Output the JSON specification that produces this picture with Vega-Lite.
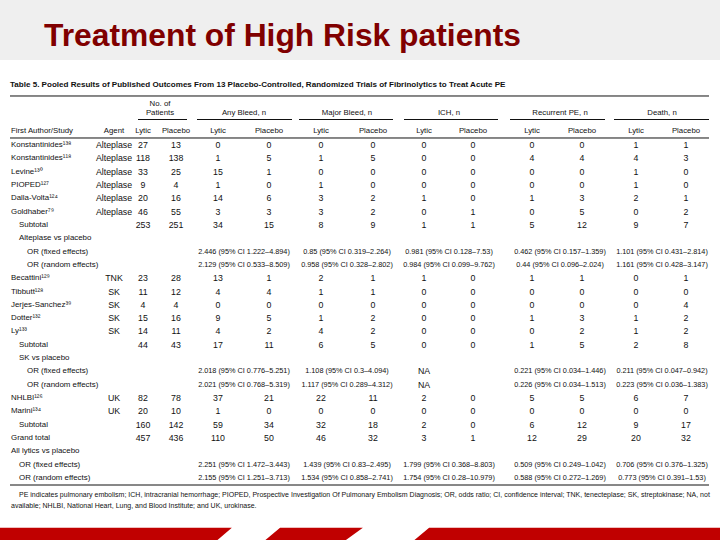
{
  "$schema": "https://vega.github.io/schema/vega-lite/v6.json",
  "width": 720,
  "height": 540,
  "autosize": {"type": "none"},
  "padding": 0,
  "background": "#ffffff",
  "config": {"view": {"stroke": null}, "text": {"font": "Liberation Sans, Arial, sans-serif", "fontSize": 8.5, "color": "#111111"}},
  "data": {"values": [{}]},
  "datasets": {
    "cols": [
      {"k": "s0", "x": 11}, {"k": "s1", "x": 19}, {"k": "s2", "x": 27},
      {"k": "ag", "x": 114}, {"k": "pL", "x": 143}, {"k": "pP", "x": 176}, {"k": "pM", "x": 160},
      {"k": "abL", "x": 218}, {"k": "abP", "x": 269}, {"k": "abM", "x": 244},
      {"k": "mbL", "x": 321}, {"k": "mbP", "x": 373}, {"k": "mbM", "x": 347},
      {"k": "ichL", "x": 424}, {"k": "ichP", "x": 473}, {"k": "ichM", "x": 449},
      {"k": "rpL", "x": 532}, {"k": "rpP", "x": 582}, {"k": "rpM", "x": 560},
      {"k": "dL", "x": 636}, {"k": "dP", "x": 686}, {"k": "dM", "x": 662},
      {"k": "L", "x": 10}, {"k": "R", "x": 709},
      {"k": "pa0", "x": 138}, {"k": "pa1", "x": 187},
      {"k": "ab0", "x": 197}, {"k": "ab1", "x": 292},
      {"k": "mb0", "x": 299}, {"k": "mb1", "x": 393},
      {"k": "ich0", "x": 404}, {"k": "ich1", "x": 498},
      {"k": "rp0", "x": 510}, {"k": "rp1", "x": 605},
      {"k": "d0", "x": 614}, {"k": "d1", "x": 709}
    ],
    "rules": [
      {"r": -3.679, "a": "L", "b": "R"},
      {"r": -0.526, "a": "L", "b": "R"},
      {"r": 25.526, "a": "L", "b": "R"},
      {"r": -1.914, "a": "pa0", "b": "pa1"},
      {"r": -1.914, "a": "ab0", "b": "ab1"},
      {"r": -1.914, "a": "mb0", "b": "mb1"},
      {"r": -1.914, "a": "ich0", "b": "ich1"},
      {"r": -1.914, "a": "rp0", "b": "rp1"},
      {"r": -1.914, "a": "d0", "b": "d1"}
    ],
    "hdr": [
      {"r": -3.078, "c": "pM", "t": "No. of"},
      {"r": -2.402, "c": "pM", "t": "Patients"},
      {"r": -2.402, "c": "abM", "t": "Any Bleed, n"},
      {"r": -2.402, "c": "mbM", "t": "Major Bleed, n"},
      {"r": -2.402, "c": "ichM", "t": "ICH, n"},
      {"r": -2.402, "c": "rpM", "t": "Recurrent PE, n"},
      {"r": -2.402, "c": "dM", "t": "Death, n"},
      {"r": -1.051, "c": "ag", "t": "Agent"},
      {"r": -1.051, "c": "pL", "t": "Lytic"}, {"r": -1.051, "c": "pP", "t": "Placebo"},
      {"r": -1.051, "c": "abL", "t": "Lytic"}, {"r": -1.051, "c": "abP", "t": "Placebo"},
      {"r": -1.051, "c": "mbL", "t": "Lytic"}, {"r": -1.051, "c": "mbP", "t": "Placebo"},
      {"r": -1.051, "c": "ichL", "t": "Lytic"}, {"r": -1.051, "c": "ichP", "t": "Placebo"},
      {"r": -1.051, "c": "rpL", "t": "Lytic"}, {"r": -1.051, "c": "rpP", "t": "Placebo"},
      {"r": -1.051, "c": "dL", "t": "Lytic"}, {"r": -1.051, "c": "dP", "t": "Placebo"}
    ],
    "notes": [
      {"r": 26.276, "c": "s1", "t": "PE indicates pulmonary embolism; ICH, intracranial hemorrhage; PIOPED, Prospective Investigation Of Pulmonary Embolism Diagnosis; OR, odds ratio; CI, confidence interval; TNK, tenecteplase; SK, streptokinase; NA, not"},
      {"r": 27.102, "c": "s0", "t": "available; NHLBI, National Heart, Lung, and Blood Institute; and UK, urokinase."}
    ],
    "body": [
      {"r": 0, "lvl": "s0", "name": "Konstantinides¹³⁸", "ag": "Alteplase", "pL": 27, "pP": 13, "abL": 0, "abP": 0, "mbL": 0, "mbP": 0, "ichL": 0, "ichP": 0, "rpL": 0, "rpP": 0, "dL": 1, "dP": 1},
      {"r": 1, "lvl": "s0", "name": "Konstantinides¹¹⁸", "ag": "Alteplase", "pL": 118, "pP": 138, "abL": 1, "abP": 5, "mbL": 1, "mbP": 5, "ichL": 0, "ichP": 0, "rpL": 4, "rpP": 4, "dL": 4, "dP": 3},
      {"r": 2, "lvl": "s0", "name": "Levine¹³⁰", "ag": "Alteplase", "pL": 33, "pP": 25, "abL": 15, "abP": 1, "mbL": 0, "mbP": 0, "ichL": 0, "ichP": 0, "rpL": 0, "rpP": 0, "dL": 1, "dP": 0},
      {"r": 3, "lvl": "s0", "name": "PIOPED¹²⁷", "ag": "Alteplase", "pL": 9, "pP": 4, "abL": 1, "abP": 0, "mbL": 1, "mbP": 0, "ichL": 0, "ichP": 0, "rpL": 0, "rpP": 0, "dL": 1, "dP": 0},
      {"r": 4, "lvl": "s0", "name": "Dalla-Volta¹²⁴", "ag": "Alteplase", "pL": 20, "pP": 16, "abL": 14, "abP": 6, "mbL": 3, "mbP": 2, "ichL": 1, "ichP": 0, "rpL": 1, "rpP": 3, "dL": 2, "dP": 1},
      {"r": 5, "lvl": "s0", "name": "Goldhaber⁷⁹", "ag": "Alteplase", "pL": 46, "pP": 55, "abL": 3, "abP": 3, "mbL": 3, "mbP": 2, "ichL": 0, "ichP": 1, "rpL": 0, "rpP": 5, "dL": 0, "dP": 2},
      {"r": 6, "lvl": "s1", "name": "Subtotal", "pL": 253, "pP": 251, "abL": 34, "abP": 15, "mbL": 8, "mbP": 9, "ichL": 1, "ichP": 1, "rpL": 5, "rpP": 12, "dL": 9, "dP": 7},
      {"r": 7, "lvl": "s1", "name": "Alteplase vs placebo"},
      {"r": 8, "lvl": "s2", "name": "OR (fixed effects)", "abM": "2.446 (95% CI 1.222–4.894)", "mbM": "0.85 (95% CI 0.319–2.264)", "ichM": "0.981 (95% CI 0.128–7.53)", "rpM": "0.462 (95% CI 0.157–1.359)", "dM": "1.101 (95% CI 0.431–2.814)"},
      {"r": 9, "lvl": "s2", "name": "OR (random effects)", "abM": "2.129 (95% CI 0.533–8.509)", "mbM": "0.958 (95% CI 0.328–2.802)", "ichM": "0.984 (95% CI 0.099–9.762)", "rpM": "0.44 (95% CI 0.096–2.024)", "dM": "1.161 (95% CI 0.428–3.147)"},
      {"r": 10, "lvl": "s0", "name": "Becattini¹²⁹", "ag": "TNK", "pL": 23, "pP": 28, "abL": 13, "abP": 1, "mbL": 2, "mbP": 1, "ichL": 1, "ichP": 0, "rpL": 1, "rpP": 1, "dL": 0, "dP": 1},
      {"r": 11, "lvl": "s0", "name": "Tibbutt¹²⁸", "ag": "SK", "pL": 11, "pP": 12, "abL": 4, "abP": 4, "mbL": 1, "mbP": 1, "ichL": 0, "ichP": 0, "rpL": 0, "rpP": 0, "dL": 0, "dP": 0},
      {"r": 12, "lvl": "s0", "name": "Jerjes-Sanchez³⁹", "ag": "SK", "pL": 4, "pP": 4, "abL": 0, "abP": 0, "mbL": 0, "mbP": 0, "ichL": 0, "ichP": 0, "rpL": 0, "rpP": 0, "dL": 0, "dP": 4},
      {"r": 13, "lvl": "s0", "name": "Dotter¹³²", "ag": "SK", "pL": 15, "pP": 16, "abL": 9, "abP": 5, "mbL": 1, "mbP": 2, "ichL": 0, "ichP": 0, "rpL": 1, "rpP": 3, "dL": 1, "dP": 2},
      {"r": 14, "lvl": "s0", "name": "Ly¹³³", "ag": "SK", "pL": 14, "pP": 11, "abL": 4, "abP": 2, "mbL": 4, "mbP": 2, "ichL": 0, "ichP": 0, "rpL": 0, "rpP": 2, "dL": 1, "dP": 2},
      {"r": 15, "lvl": "s1", "name": "Subtotal", "pL": 44, "pP": 43, "abL": 17, "abP": 11, "mbL": 6, "mbP": 5, "ichL": 0, "ichP": 0, "rpL": 1, "rpP": 5, "dL": 2, "dP": 8},
      {"r": 16, "lvl": "s1", "name": "SK vs placebo"},
      {"r": 17, "lvl": "s2", "name": "OR (fixed effects)", "abM": "2.018 (95% CI 0.776–5.251)", "mbM": "1.108 (95% CI 0.3–4.094)", "ichL": "NA", "rpM": "0.221 (95% CI 0.034–1.446)", "dM": "0.211 (95% CI 0.047–0.942)"},
      {"r": 18, "lvl": "s2", "name": "OR (random effects)", "abM": "2.021 (95% CI 0.768–5.319)", "mbM": "1.117 (95% CI 0.289–4.312)", "ichL": "NA", "rpM": "0.226 (95% CI 0.034–1.513)", "dM": "0.223 (95% CI 0.036–1.383)"},
      {"r": 19, "lvl": "s0", "name": "NHLBI¹²⁶", "ag": "UK", "pL": 82, "pP": 78, "abL": 37, "abP": 21, "mbL": 22, "mbP": 11, "ichL": 2, "ichP": 0, "rpL": 5, "rpP": 5, "dL": 6, "dP": 7},
      {"r": 20, "lvl": "s0", "name": "Marini¹³⁴", "ag": "UK", "pL": 20, "pP": 10, "abL": 1, "abP": 0, "mbL": 0, "mbP": 0, "ichL": 0, "ichP": 0, "rpL": 0, "rpP": 0, "dL": 0, "dP": 0},
      {"r": 21, "lvl": "s1", "name": "Subtotal", "pL": 160, "pP": 142, "abL": 59, "abP": 34, "mbL": 32, "mbP": 18, "ichL": 2, "ichP": 0, "rpL": 6, "rpP": 12, "dL": 9, "dP": 17},
      {"r": 22, "lvl": "s0", "name": "Grand total", "pL": 457, "pP": 436, "abL": 110, "abP": 50, "mbL": 46, "mbP": 32, "ichL": 3, "ichP": 1, "rpL": 12, "rpP": 29, "dL": 20, "dP": 32},
      {"r": 23, "lvl": "s0", "name": "All lytics vs placebo"},
      {"r": 24, "lvl": "s1", "name": "OR (fixed effects)", "abM": "2.251 (95% CI 1.472–3.443)", "mbM": "1.439 (95% CI 0.83–2.495)", "ichM": "1.799 (95% CI 0.368–8.803)", "rpM": "0.509 (95% CI 0.249–1.042)", "dM": "0.706 (95% CI 0.376–1.325)"},
      {"r": 25, "lvl": "s1", "name": "OR (random effects)", "abM": "2.155 (95% CI 1.251–3.713)", "mbM": "1.534 (95% CI 0.858–2.741)", "ichM": "1.754 (95% CI 0.28–10.979)", "rpM": "0.588 (95% CI 0.272–1.269)", "dM": "0.773 (95% CI 0.391–1.53)"}
    ]
  },
  "layer": [
    {
      "mark": {"type": "rect", "color": "#efefef"},
      "encoding": {
        "x": {"datum": 0, "type": "quantitative", "scale": {"domain": [0, 720], "nice": false, "zero": false}, "axis": null},
        "x2": {"datum": 720},
        "y": {"datum": -10.886, "type": "quantitative", "scale": {"domain": [-10.886, 29.655], "reverse": true, "nice": false, "zero": false}, "axis": null},
        "y2": {"datum": -6.381}
      }
    },
    {
      "mark": {"type": "text", "text": "Treatment of High Risk patients", "font": "Liberation Sans, Arial, sans-serif", "fontWeight": "bold", "fontSize": 31.8, "color": "#800000", "align": "left", "baseline": "alphabetic"},
      "encoding": {
        "x": {"datum": 44, "type": "quantitative", "scale": {"domain": [0, 720], "nice": false, "zero": false}, "axis": null},
        "y": {"datum": -7.43, "type": "quantitative", "scale": {"domain": [-10.886, 29.655], "reverse": true, "nice": false, "zero": false}, "axis": null}
      }
    },
    {
      "mark": {"type": "text", "text": "Table 5.   Pooled Results of Published Outcomes From 13 Placebo-Controlled, Randomized Trials of Fibrinolytics to Treat Acute PE", "fontWeight": "bold", "fontSize": 8.05, "align": "left", "baseline": "middle"},
      "encoding": {
        "x": {"datum": 10, "type": "quantitative", "scale": {"domain": [0, 720], "nice": false, "zero": false}, "axis": null},
        "y": {"datum": -4.505, "type": "quantitative", "scale": {"domain": [-10.886, 29.655], "reverse": true, "nice": false, "zero": false}, "axis": null}
      }
    },
    {
      "data": {"name": "rules"},
      "transform": [
        {"lookup": "a", "from": {"data": {"name": "cols"}, "key": "k", "fields": ["x"]}, "as": ["xa"]},
        {"lookup": "b", "from": {"data": {"name": "cols"}, "key": "k", "fields": ["x"]}, "as": ["xb"]}
      ],
      "mark": {"type": "rule", "color": "#111111", "strokeWidth": 1},
      "encoding": {
        "x": {"field": "xa", "type": "quantitative", "scale": {"domain": [0, 720], "nice": false, "zero": false}, "axis": null},
        "x2": {"field": "xb"},
        "y": {"field": "r", "type": "quantitative", "scale": {"domain": [-10.886, 29.655], "reverse": true, "nice": false, "zero": false}, "axis": null}
      }
    },
    {
      "data": {"name": "hdr"},
      "transform": [{"lookup": "c", "from": {"data": {"name": "cols"}, "key": "k", "fields": ["x"]}}],
      "mark": {"type": "text", "align": "center", "baseline": "middle", "fontSize": 7.8},
      "encoding": {
        "x": {"field": "x", "type": "quantitative", "scale": {"domain": [0, 720], "nice": false, "zero": false}, "axis": null},
        "y": {"field": "r", "type": "quantitative", "scale": {"domain": [-10.886, 29.655], "reverse": true, "nice": false, "zero": false}, "axis": null},
        "text": {"field": "t"}
      }
    },
    {
      "mark": {"type": "text", "text": "First Author/Study", "fontSize": 7.8, "align": "left", "baseline": "middle"},
      "encoding": {
        "x": {"datum": 11, "type": "quantitative", "scale": {"domain": [0, 720], "nice": false, "zero": false}, "axis": null},
        "y": {"datum": -1.051, "type": "quantitative", "scale": {"domain": [-10.886, 29.655], "reverse": true, "nice": false, "zero": false}, "axis": null}
      }
    },
    {
      "data": {"name": "notes"},
      "transform": [{"lookup": "c", "from": {"data": {"name": "cols"}, "key": "k", "fields": ["x"]}}],
      "mark": {"type": "text", "align": "left", "baseline": "middle", "fontSize": 7.0},
      "encoding": {
        "x": {"field": "x", "type": "quantitative", "scale": {"domain": [0, 720], "nice": false, "zero": false}, "axis": null},
        "y": {"field": "r", "type": "quantitative", "scale": {"domain": [-10.886, 29.655], "reverse": true, "nice": false, "zero": false}, "axis": null},
        "text": {"field": "t"}
      }
    },
    {
      "data": {"name": "body"},
      "transform": [{"lookup": "lvl", "from": {"data": {"name": "cols"}, "key": "k", "fields": ["x"]}}],
      "mark": {"type": "text", "align": "left", "baseline": "middle", "fontSize": 7.9},
      "encoding": {
        "x": {"field": "x", "type": "quantitative", "scale": {"domain": [0, 720], "nice": false, "zero": false}, "axis": null},
        "y": {"field": "r", "type": "quantitative", "scale": {"domain": [-10.886, 29.655], "reverse": true, "nice": false, "zero": false}, "axis": null},
        "text": {"field": "name"}
      }
    },
    {
      "data": {"name": "body"},
      "transform": [
        {"fold": ["ag", "pL", "pP", "abL", "abP", "mbL", "mbP", "ichL", "ichP", "rpL", "rpP", "dL", "dP"], "as": ["c", "t"]},
        {"filter": "datum.t != null"},
        {"lookup": "c", "from": {"data": {"name": "cols"}, "key": "k", "fields": ["x"]}}
      ],
      "mark": {"type": "text", "align": "center", "baseline": "middle", "fontSize": 8.8},
      "encoding": {
        "x": {"field": "x", "type": "quantitative", "scale": {"domain": [0, 720], "nice": false, "zero": false}, "axis": null},
        "y": {"field": "r", "type": "quantitative", "scale": {"domain": [-10.886, 29.655], "reverse": true, "nice": false, "zero": false}, "axis": null},
        "text": {"field": "t"}
      }
    },
    {
      "data": {"name": "body"},
      "transform": [
        {"fold": ["abM", "mbM", "ichM", "rpM", "dM"], "as": ["c", "t"]},
        {"filter": "datum.t != null"},
        {"lookup": "c", "from": {"data": {"name": "cols"}, "key": "k", "fields": ["x"]}}
      ],
      "mark": {"type": "text", "align": "center", "baseline": "middle", "fontSize": 7.3},
      "encoding": {
        "x": {"field": "x", "type": "quantitative", "scale": {"domain": [0, 720], "nice": false, "zero": false}, "axis": null},
        "y": {"field": "r", "type": "quantitative", "scale": {"domain": [-10.886, 29.655], "reverse": true, "nice": false, "zero": false}, "axis": null},
        "text": {"field": "t"}
      }
    },
    {
      "mark": {"type": "point", "filled": true, "opacity": 1, "color": "#c00000", "strokeWidth": 0, "size": 518400,
        "shape": "M-1.02,0.019L-0.4,0.019L-0.356,-0.019L-1.02,-0.019Z M-0.267,0.019L-0.044,0.019L0.008,-0.019L-0.222,-0.019Z M0.147,0.019L1.02,0.019L1.02,-0.019L0.192,-0.019Z"},
      "encoding": {
        "x": {"datum": 360, "type": "quantitative", "scale": {"domain": [0, 720], "nice": false, "zero": false}, "axis": null},
        "y": {"datum": 29.24, "type": "quantitative", "scale": {"domain": [-10.886, 29.655], "reverse": true, "nice": false, "zero": false}, "axis": null}
      }
    }
  ]
}
